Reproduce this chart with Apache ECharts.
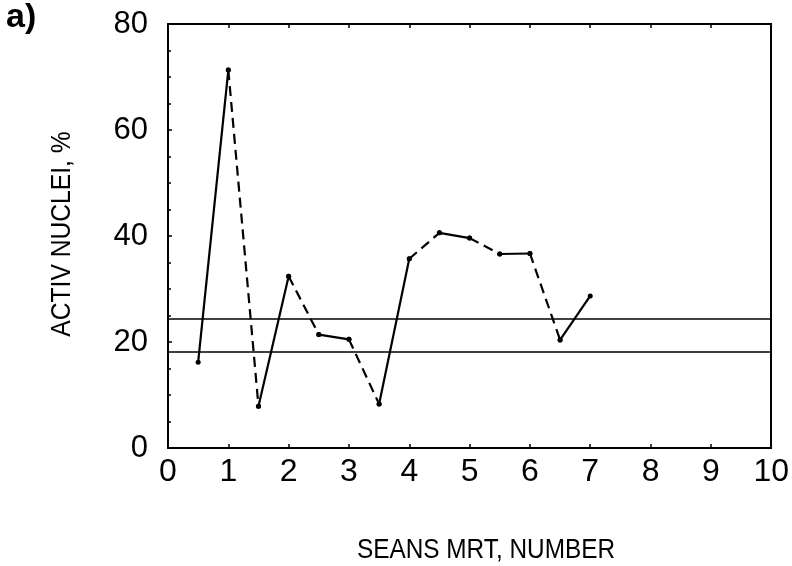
<!DOCTYPE html>
<html>
<head>
<meta charset="utf-8">
<script src="https://cdn.jsdelivr.net/npm/echarts@6/dist/echarts.min.js"></script>
<style>
  html, body { margin: 0; padding: 0; background: #fff; }
  #chart { width: 792px; height: 566px; }
</style>
</head>
<body>
<div id="chart"></div>
<script>
// session points
const sessions = [0.5, 1, 1.5, 2, 2.5, 3, 3.5, 4, 4.5, 5, 5.5, 6, 6.5, 7];
const activNuclei = [16.2, 71.3, 7.9, 32.4, 21.4, 20.5, 8.3, 35.7, 40.6, 39.6, 36.6, 36.7, 20.4, 28.7];
// style of the segment leaving each point (n.5 -> n+1 solid, n -> n.5 dashed)
const segmentStyles = ['solid', 'dashed', 'solid', 'dashed', 'solid', 'dashed', 'solid',
  'dashed', 'solid', 'dashed', 'solid', 'dashed', 'solid'];
// reference levels
const refLevels = [24.3, 18.1];
const xTicks = [0, 1, 2, 3, 4, 5, 6, 7, 8, 9, 10];
const yTicks = [0, 20, 40, 60, 80];

const FONT = '"Liberation Sans", Arial, sans-serif';

const chart = echarts.init(document.getElementById('chart'), null, { renderer: 'canvas' });

// one line per segment so each can carry its own dash style
const series = segmentStyles.map((st, i) => ({
  type: 'line',
  data: [[sessions[i], activNuclei[i]], [sessions[i + 1], activNuclei[i + 1]]],
  symbol: 'circle',
  symbolSize: 5,
  itemStyle: { color: '#000' },
  lineStyle: { color: '#000', width: 2.2, type: st === 'dashed' ? [10, 6] : 'solid' },
  animation: false,
  silent: true,
  z: 3
}));

series.push({
  type: 'line',
  data: [],
  silent: true,
  animation: false,
  markLine: {
    silent: true,
    symbol: 'none',
    label: { show: false },
    lineStyle: { color: '#000', width: 1.6, type: 'solid' },
    data: refLevels.map(v => ({ yAxis: v }))
  }
});

const axisLine = { show: true, onZero: false, lineStyle: { color: '#000', width: 2 } };
const tick = { show: true, inside: true, length: 4, lineStyle: { color: '#000', width: 1.5 } };

chart.setOption({
  backgroundColor: '#fff',
  animation: false,
  grid: { left: 168, top: 24, right: 15, bottom: 118, containLabel: false },
  xAxis: [{
    type: 'value', min: 0, max: 10, interval: 1, position: 'bottom',
    axisLine,
    axisTick: tick,
    axisLabel: { color: '#000', fontFamily: FONT, fontSize: 32, margin: 8, customValues: xTicks },
    splitLine: { show: false }
  }, {
    type: 'value', min: 0, max: 10, interval: 1, position: 'top',
    axisLine,
    axisTick: tick,
    axisLabel: { show: false },
    splitLine: { show: false }
  }],
  yAxis: [{
    type: 'value', min: 0, max: 80, interval: 20, position: 'left',
    axisLine,
    axisTick: tick,
    minorTick: { show: true, splitNumber: 4, length: 3, lineStyle: { color: '#000', width: 1.5 } },
    axisLabel: { color: '#000', fontFamily: FONT, fontSize: 31, margin: 20, customValues: yTicks },
    splitLine: { show: false }
  }, {
    type: 'value', min: 0, max: 80, interval: 20, position: 'right',
    axisLine,
    axisTick: { show: false },
    axisLabel: { show: false },
    splitLine: { show: false }
  }],
  graphic: [
    {
      type: 'text', left: 6, top: 1,
      style: { text: 'a)', fill: '#000', font: 'bold 34px ' + FONT }
    },
    {
      type: 'text', x: 486, y: 550, scaleX: 0.87,
      style: { text: 'SEANS MRT, NUMBER', fill: '#000', font: '28px ' + FONT, align: 'center', verticalAlign: 'middle' }
    },
    {
      type: 'text', x: 62, y: 234, rotation: Math.PI / 2, scaleX: 0.88,
      style: { text: 'ACTIV NUCLEI, %', fill: '#000', font: '28px ' + FONT, align: 'center', verticalAlign: 'middle' }
    }
  ],
  series
});
</script>
</body>
</html>
